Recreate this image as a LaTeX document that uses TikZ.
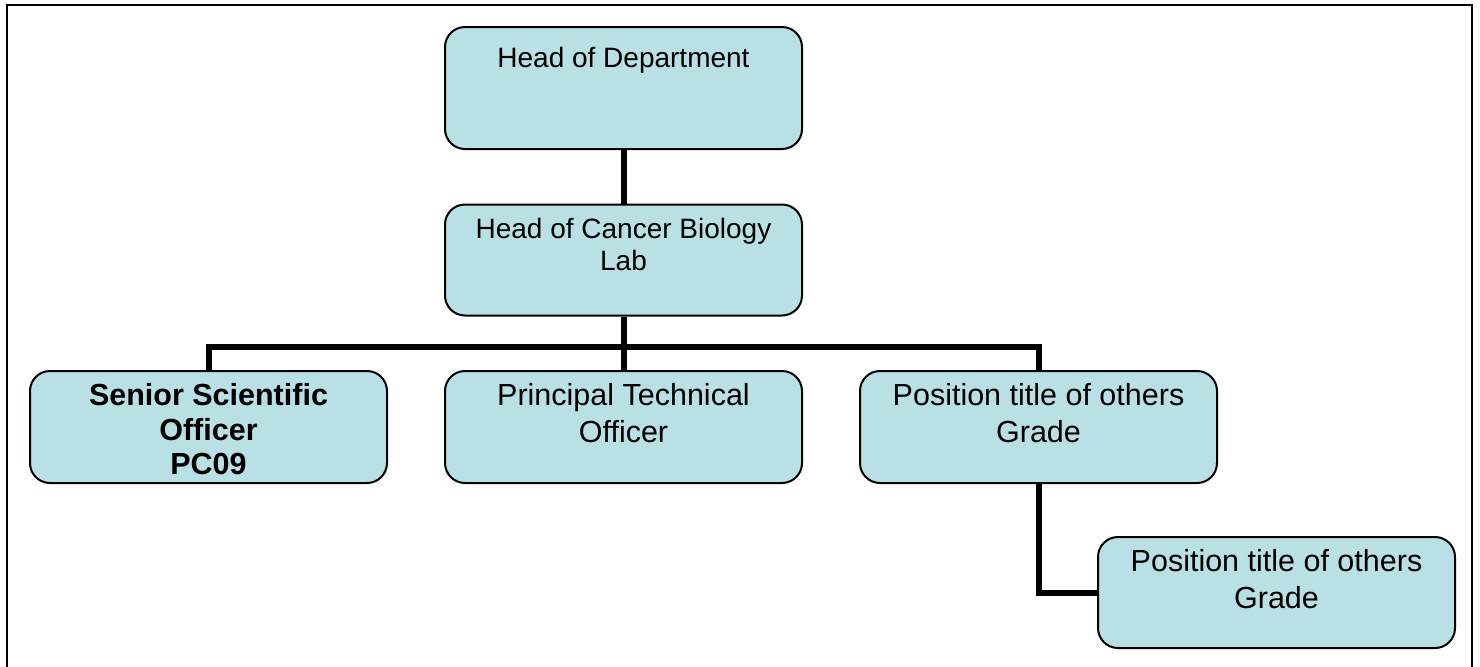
\documentclass[tikz,border=0pt]{standalone}
\usepackage{fontspec}
\setmainfont{Liberation Sans}
\definecolor{boxfill}{HTML}{B9E0E4}
\tikzset{
  orgbox/.style={draw=black, line width=1pt, fill=boxfill, rounded corners=10pt,
    minimum width=178.5pt, inner sep=0pt},
  conn/.style={draw=black, line width=3pt},
  txta/.style={anchor=base, inner sep=0pt, font=\fontsize{14pt}{16pt}\selectfont},
  txtb/.style={anchor=base, inner sep=0pt, font=\fontsize{15.25pt}{18pt}\selectfont},
  txtbold/.style={txtb, font=\fontsize{15.25pt}{18pt}\selectfont\bfseries},
  frame/.style={draw=black, line width=1pt}
}
\begin{document}
\begin{tikzpicture}[x=0.5pt,y=-0.5pt]
\clip (0,0) rectangle (1480,666);
\fill[white] (0,0) rectangle (1480,666);
\draw[frame] (7,5) rectangle (1472,700);

% boxes
\node[orgbox, minimum height=61pt]   (hod)  at (623.5,88)    {};
\node[orgbox, minimum height=55.5pt] (hcbl) at (623.5,260)   {};
\node[orgbox, minimum height=56pt]   (sso)  at (208.5,427)   {};
\node[orgbox, minimum height=56pt]   (pto)  at (623.5,427)   {};
\node[orgbox, minimum height=56pt]   (pos)  at (1038.5,427)  {};
\node[orgbox, minimum height=55.5pt] (low)  at (1276.5,592.5) {};

% texts
\node[txta] (hodt) at (623.5,67) {Head of Department};
\node[txta] (hcblt1) at (623.5,238) {Head of Cancer Biology};
\node[txta] (hcblt2) at (623.5,270) {Lab};
\node[txtbold] (ssot1) at (208.5,405) {Senior Scientific};
\node[txtbold] (ssot2) at (208.5,440) {Officer};
\node[txtbold] (ssot3) at (208.5,474) {PC09};
\node[txtb] (ptot1) at (623.5,405) {Principal Technical};
\node[txtb] (ptot2) at (623.5,442) {Officer};
\node[txtb] (post1) at (1038.5,405) {Position title of others};
\node[txtb] (post2) at (1038.5,442) {Grade};
\node[txtb] (lowt1) at (1276.5,571) {Position title of others};
\node[txtb] (lowt2) at (1276.5,608) {Grade};

% connectors
\coordinate (bus) at (623.5,347);
\draw[conn] (hod.south) -- (hcbl.north);
\draw[conn] (hcbl.south) -- (bus);
\draw[conn] (sso.north) |- (bus) -| (pos.north);
\draw[conn] (bus) -- (pto.north);
\draw[conn] (pos.south) |- (low.west);
\end{tikzpicture}
\end{document}
